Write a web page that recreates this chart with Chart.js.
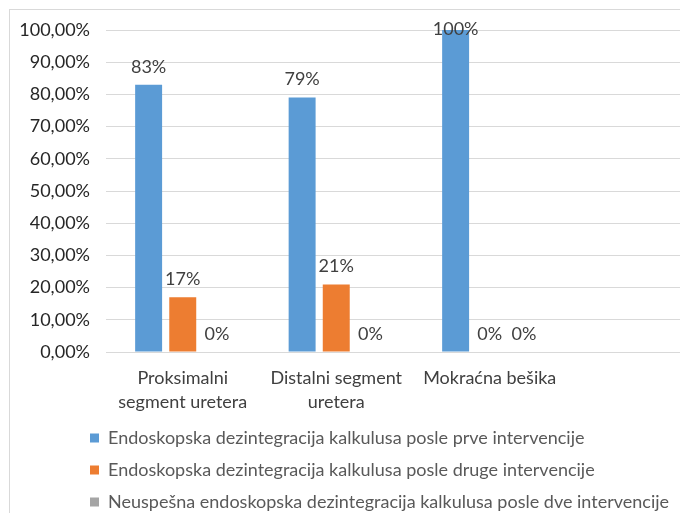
<!DOCTYPE html>
<html><head><meta charset="utf-8">
<script src="https://cdn.jsdelivr.net/npm/chart.js@4/dist/chart.umd.min.js"></script>
<style>
html,body{margin:0;padding:0;overflow:hidden;background:#fff;width:680px;height:513px;}
#frame{position:absolute;left:9px;top:9px;width:800px;height:700px;border:1px solid #d9d9d9;box-sizing:border-box;}
#wrap{position:absolute;left:0;top:0;width:760px;height:600px;}
</style></head><body>
<div id="frame"></div>
<div id="wrap"><canvas id="c" width="760" height="600"></canvas></div>
<script>
const categories = [["Proksimalni", "segment uretera"], ["Distalni segment", "uretera"], "Mokraćna bešika", ""];
const seriesNames = [
  "Endoskopska dezintegracija kalkulusa posle prve intervencije",
  "Endoskopska dezintegracija kalkulusa posle druge intervencije",
  "Neuspešna endoskopska dezintegracija kalkulusa posle dve intervencije"
];
const firstIntervention = [83, 79, 100, null];
const secondIntervention = [17, 21, 0, null];
const failedAfterTwo = [0, 0, 0, null];
const seriesColors = ["#5B9BD5", "#ED7D31", "#A5A5A5"];

const FONT = "Lato";
const FS = 18;

const valueLabels = {
  id: 'valueLabels',
  afterDatasetsDraw(chart) {
    const ctx = chart.ctx;
    ctx.save();
    ctx.font = FS + 'px ' + FONT;
    ctx.fillStyle = '#404040';
    ctx.textAlign = 'center';
    ctx.textBaseline = 'middle';
    chart.data.datasets.forEach((ds, i) => {
      const meta = chart.getDatasetMeta(i);
      meta.data.forEach((bar, j) => {
        const v = ds.data[j];
        if (v === null || v === undefined) return;
        const y = Math.max(bar.y - 18, chart.chartArea.top - 1);
        ctx.fillText(v + '%', bar.x, y);
      });
    });
    ctx.restore();
  }
};

const legendPlace = {
  id: 'legendPlace',
  beforeDraw(chart) {
    const lg = chart.legend;
    if (!lg) return;
    const p = lg.options.labels.padding;
    lg.left = 90 - p;
    lg.top = 438 - FS / 2 - p;
  }
};

const datasets = [firstIntervention, secondIntervention, failedAfterTwo].map((d, i) => ({
  label: seriesNames[i],
  data: d,
  backgroundColor: seriesColors[i],
  borderWidth: 0,
  barPercentage: 0.79,
  categoryPercentage: 0.667
}));

new Chart(document.getElementById('c'), {
  type: 'bar',
  data: { labels: categories, datasets },
  plugins: [valueLabels, legendPlace],
  options: {
    responsive: false,
    animation: false,
    layout: { padding: { top: 30, right: 40, left: 0, bottom: 0 } },
    plugins: {
      tooltip: { enabled: false },
      legend: {
        position: 'bottom',
        align: 'start',
        labels: {
          boxWidth: 9, boxHeight: 9, padding: 32 - FS,
          color: '#595959',
          font: { family: FONT, size: FS }
        }
      }
    },
    scales: {
      x: {
        grid: { display: false, drawTicks: false },
        border: { display: false },
        ticks: {
          color: '#404040', font: { family: FONT, size: FS, lineHeight: 24 / FS },
          maxRotation: 0, autoSkip: false, padding: 14
        },
        afterFit(s) { s.height = s.chart.height - s.chart.legend.height - 352; }
      },
      y: {
        min: 0, max: 100,
        grid: { color: '#D9D9D9', lineWidth: 1, drawTicks: false },
        border: { display: false },
        ticks: {
          stepSize: 10, padding: 16, color: '#262626',
          font: { family: FONT, size: FS },
          callback: v => v.toFixed(2).replace('.', ',') + '%'
        },
        afterFit(s) { s.width = 106; }
      }
    }
  }
});
</script>
</body></html>
